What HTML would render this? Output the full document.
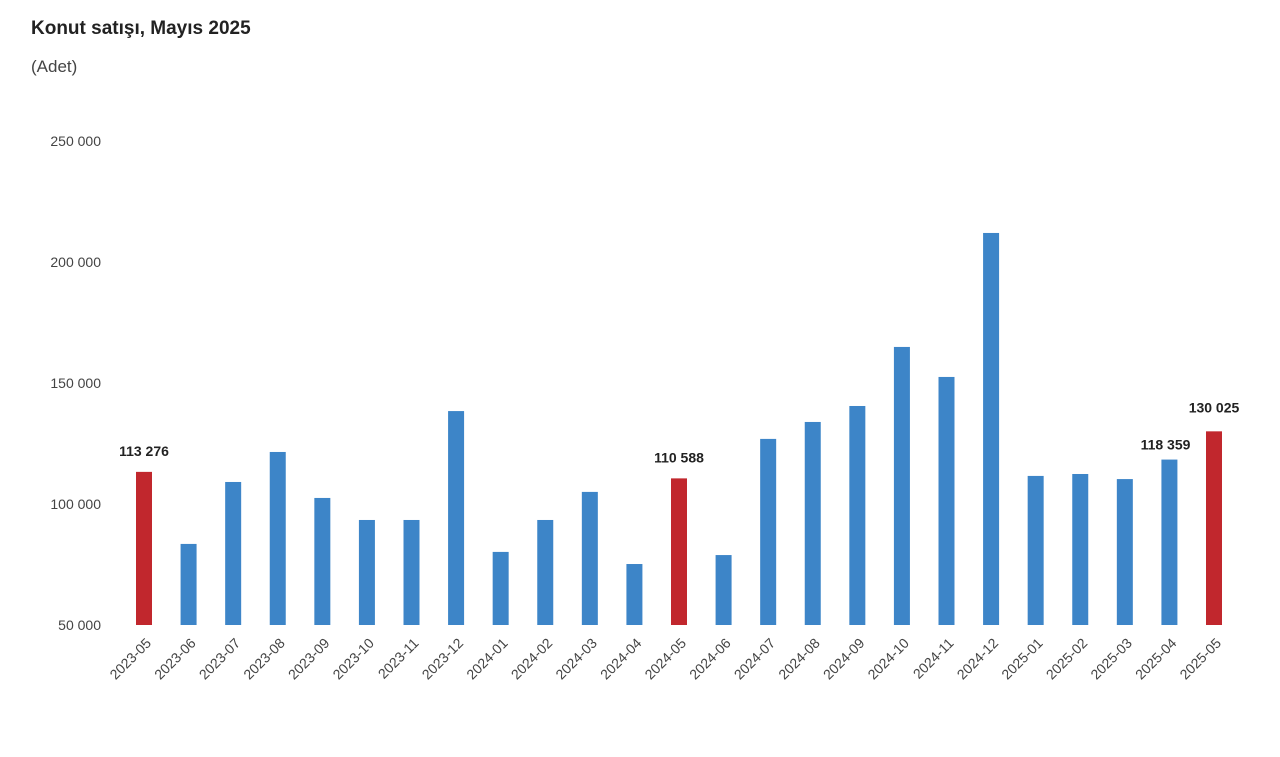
<!DOCTYPE html>
<html><head><meta charset="utf-8"><style>
body{margin:0;background:#fff;font-family:"Liberation Sans",sans-serif;}
svg text{font-family:"Liberation Sans",sans-serif;}
</style></head><body>
<svg width="1280" height="752">
<text x="31" y="34" font-size="19" font-weight="bold" fill="#222">Konut satışı, Mayıs 2025</text>
<text x="31" y="72" font-size="17" fill="#444">(Adet)</text>
<g id="yaxis"></g>
<g id="bars"></g>
<g id="xaxis"></g>
</svg>
<script>
const categories=["2023-05","2023-06","2023-07","2023-08","2023-09","2023-10","2023-11","2023-12","2024-01","2024-02","2024-03","2024-04","2024-05","2024-06","2024-07","2024-08","2024-09","2024-10","2024-11","2024-12","2025-01","2025-02","2025-03","2025-04","2025-05"];
const values=[113276,83500,109100,121500,102500,93400,93400,138400,80200,93400,105000,75200,110588,78900,126900,133900,140500,164900,152500,212000,111600,112400,110300,118359,130025];
const highlighted=["2023-05","2024-05","2025-05"];
const labeled=["2023-05","2024-05","2025-04","2025-05"];
const yTicks=[50000,100000,150000,200000,250000];
const NS="http://www.w3.org/2000/svg";
const y=v=>625-(v-50000)/50000*121;
const x=i=>144+i*(1214-144)/24;
const fmt=v=>String(v).replace(/\B(?=(\d{3})+(?!\d))/g," ");
function mk(t,a,p){const e=document.createElementNS(NS,t);for(const k in a)e.setAttribute(k,a[k]);p.appendChild(e);return e;}
const ya=document.getElementById('yaxis'),bg=document.getElementById('bars'),xa=document.getElementById('xaxis');
yTicks.forEach(v=>{const t=mk('text',{x:101,y:y(v)+5,'text-anchor':'end','font-size':'14',fill:'#444'},ya);t.textContent=fmt(v);

});
categories.forEach((c,i)=>{
const hl=highlighted.includes(c);
const r=mk('rect',{x:x(i)-8,y:y(values[i]),width:16,height:625-y(values[i]),fill:hl?'#c1272d':'#3d85c8'},bg);


if(labeled.includes(c)){
let lx=x(i),anchor='middle',ly=y(values[i])-16;
if(c==='2025-04'){lx=x(i)+21;anchor='end';ly=y(values[i])-10;}
if(c==='2025-05'){ly=y(values[i])-19;}
const t=mk('text',{x:lx,y:ly,'text-anchor':anchor,'font-size':'14','font-weight':'bold',fill:'#222'},bg);t.textContent=fmt(values[i]);

}
const t=mk('text',{x:0,y:0,'text-anchor':'end','font-size':'14',fill:'#444',transform:`translate(${x(i)+8},${644}) rotate(-45)`},xa);t.textContent=c;


});
</script>
</body></html>
